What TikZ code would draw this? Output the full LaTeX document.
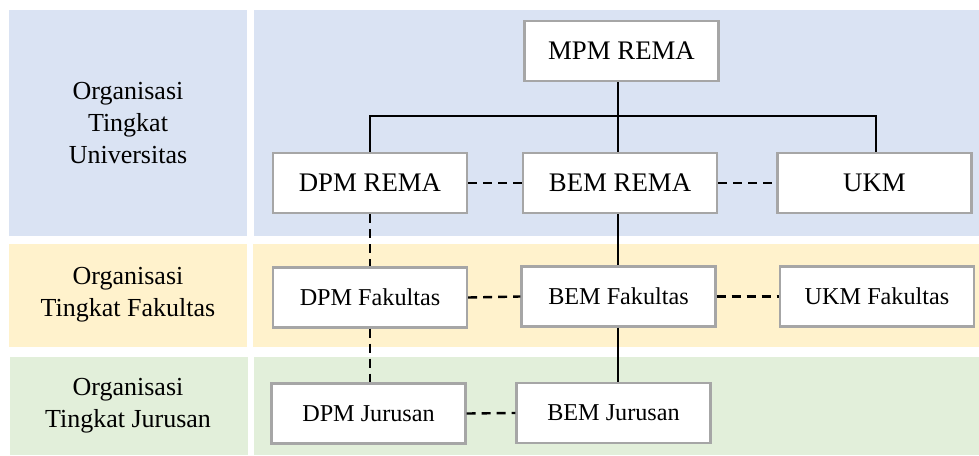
\documentclass[tikz,border=0pt]{standalone}
\usepackage{fontspec}
\setmainfont{Liberation Serif}
\definecolor{bandblue}{HTML}{DAE3F3}
\definecolor{bandyellow}{HTML}{FFF2CC}
\definecolor{bandgreen}{HTML}{E2EFDA}
\definecolor{boxgray}{HTML}{A6A6A6}
\begin{document}
\begin{tikzpicture}[x=1pt,y=-1pt,
  orgbox/.style={draw=boxgray,line width=2.2pt,fill=white,minimum width=194pt,minimum height=60pt,inner sep=0pt,font=\fontsize{26.8}{30}\selectfont},
  subbox/.style={orgbox,font=\fontsize{24.2}{28}\selectfont},
  levellabel/.style={align=center,font=\fontsize{26}{32}\selectfont},
  solidlink/.style={line width=2.4pt},
  dashlink/.style={line width=2.4pt,dash pattern=on 9pt off 6pt}]
\useasboundingbox (0,0) rectangle (979,455);
% bands
\fill[bandblue] (9,10) rectangle (247,236);
\fill[bandblue] (254,10) rectangle (979,236);
\fill[bandyellow] (9,244) rectangle (247,347);
\fill[bandyellow] (253,244) rectangle (979,347);
\fill[bandgreen] (10,357) rectangle (248,455);
\fill[bandgreen] (254,357) rectangle (979,455);
% level labels
\node[levellabel] (lu) at (128,123) {Organisasi\\Tingkat\\Universitas};
\node[levellabel] (lf) at (128,295) {Organisasi\\Tingkat Fakultas};
\node[levellabel] (lj) at (128,406) {Organisasi\\Tingkat Jurusan};
% boxes
\node[orgbox] (mpm) at (621.5,51) {MPM REMA};
\node[orgbox] (dpm) at (370,183) {DPM REMA};
\node[orgbox] (bem) at (620,183) {BEM REMA};
\node[orgbox] (ukm) at (874.5,183) {UKM};
\node[subbox] (dpmf) at (370,297.5) {DPM Fakultas};
\node[subbox] (bemf) at (618.5,296.5) {BEM Fakultas};
\node[subbox] (ukmf) at (877,296.5) {UKM Fakultas};
\node[subbox] (dpmj) at (368.5,413.5) {DPM Jurusan};
\node[subbox] (bemj) at (613.5,413) {BEM Jurusan};
% junction coordinates
\coordinate (jm) at (618,116);
\coordinate (jl) at (370,116);
\coordinate (jr) at (876,116);
% solid links
\draw[solidlink] (jm |- mpm.south) -- (jm |- bem.north);
\draw[solidlink] (jl |- dpm.north) -- (jl) -- (jr) -- (jr |- ukm.north);
\draw[solidlink] (jm |- bem.south) -- (jm |- bemf.north);
\draw[solidlink] (jm |- bemf.south) -- (jm |- bemj.north);
% dashed links
\draw[dashlink] (dpm.east) -- (bem.west);
\draw[dashlink] (bem.east) -- (ukm.west);
\draw[dashlink] (dpmf.east) -- (bemf.west);
\draw[dashlink] (bemf.east) -- (ukmf.west);
\draw[dashlink] (dpmj.east) -- (bemj.west);
\draw[dashlink] (jl |- dpm.south) -- (jl |- dpmf.north);
\draw[dashlink] (jl |- dpmf.south) -- (jl |- dpmj.north);
\end{tikzpicture}
\end{document}
